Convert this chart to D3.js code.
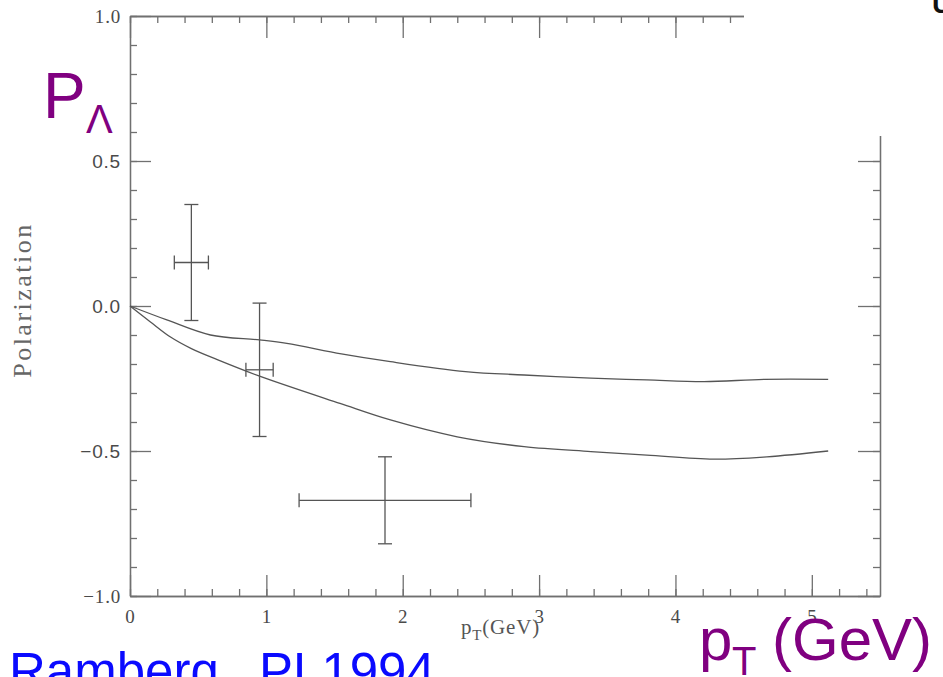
<!DOCTYPE html>
<html>
<head>
<meta charset="utf-8">
<script src="https://cdn.jsdelivr.net/npm/d3@7"></script>
<style>
  html, body { margin: 0; padding: 0; background: #fff; }
  svg { display: block; }
</style>
</head>
<body>
<svg id="chart" width="943" height="677"></svg>
<script>
// model curves
var upperPt = [0, 0.27, 0.59, 0.95, 1.15, 1.55, 1.91, 2.46, 2.89, 3.38, 3.79, 4.21, 4.65, 5.12];
var upperP  = [0, -0.048, -0.1, -0.117, -0.129, -0.165, -0.192, -0.226, -0.238, -0.249, -0.255, -0.261, -0.253, -0.253];
var lowerPt = [0, 0.15, 0.3, 0.45, 0.64, 0.95, 1.54, 1.91, 2.40, 2.89, 3.38, 3.79, 4.28, 4.67, 5.12];
var lowerP  = [0, -0.055, -0.108, -0.147, -0.185, -0.242, -0.336, -0.393, -0.451, -0.485, -0.502, -0.514, -0.528, -0.52, -0.5];

// data points with errors
var pointPt    = [0.45, 0.95, 1.87];
var pointPtErr = [0.125, 0.1, 0.63];
var pointP     = [0.15, -0.22, -0.67];
var pointPErr  = [0.2, 0.23, 0.15];

var xTicks = [0, 1, 2, 3, 4, 5];
var yTicks = [-1, -0.5, 0, 0.5, 1];
var yTickLabels = ["\u22121.0", "\u22120.5", "0.0", "0.5", "1.0"];

var svg = d3.select("#chart");
var x = d3.scaleLinear().domain([0, 5.5]).range([130, 880]);
var y = d3.scaleLinear().domain([-1, 1]).range([596, 16]);

var xMinor = d3.range(0, 28).map(function(i){ return i * 0.2; });
var yMinor = d3.range(0, 21).map(function(i){ return -1 + i * 0.1; });

function addAxis( axis, transform, labels ){
	var g = svg.append("g").attr("transform", transform).call(axis);
	g.selectAll("path, line").attr("stroke", "#707070").attr("stroke-width", 1.3);
	if ( !labels ) g.selectAll("text").remove();
	else g.selectAll("text").attr("fill", "#4a4a4a").style("font-size", "19px").style("letter-spacing", "0.8px");
	return g;
}

// minor ticks first, majors on top
addAxis( d3.axisBottom(x).tickValues(xMinor).tickSize(-7).tickSizeOuter(0), "translate(0,596)", false );
addAxis( d3.axisTop(x).tickValues(xMinor).tickSize(-7).tickSizeOuter(0), "translate(0,16)", false );
addAxis( d3.axisLeft(y).tickValues(yMinor).tickSize(-7).tickSizeOuter(0), "translate(130,0)", false );
addAxis( d3.axisRight(y).tickValues(yMinor).tickSize(-7).tickSizeOuter(0), "translate(880,0)", false );

var bottom = addAxis( d3.axisBottom(x).tickValues(xTicks).tickSize(-21).tickSizeOuter(0).tickPadding(14)
	.tickFormat(d3.format("d")), "translate(0,596)", true );
bottom.selectAll("text").style("font-family", "'Liberation Serif', serif");

addAxis( d3.axisTop(x).tickValues(xTicks).tickSize(-22).tickSizeOuter(0), "translate(0,16)", false );

var left = addAxis( d3.axisLeft(y).tickValues(yTicks).tickSize(-21).tickSizeOuter(0).tickPadding(9)
	.tickFormat(function(d, i){ return yTickLabels[i]; }), "translate(130,0)", true );
left.selectAll("text").style("font-family", function(d){
	return Math.abs(d) === 1 ? "'Liberation Serif', serif" : "'Liberation Sans', sans-serif";
});

addAxis( d3.axisRight(y).tickValues(yTicks).tickSize(-22).tickSizeOuter(0), "translate(880,0)", false );

// axis titles of the original figure
svg.append("text")
	.attr("transform", "translate(31,300) rotate(-90)")
	.attr("text-anchor", "middle")
	.style("font-family", "'Liberation Serif', serif")
	.style("font-size", "26px")
	.style("letter-spacing", "2.5px")
	.style("fill", "#666")
	.text("Polarization");

var xt = svg.append("text")
	.attr("x", 461).attr("y", 634)
	.style("font-family", "'Liberation Serif', serif")
	.style("font-size", "21px")
	.style("letter-spacing", "0.8px")
	.style("fill", "#555");
xt.append("tspan").text("p");
xt.append("tspan").attr("dy", 6).style("font-size", "15px").text("T");
xt.append("tspan").attr("dy", -6).text("(GeV)");

// curves
var line = d3.line()
	.x(function(d){ return x(d[0]); })
	.y(function(d){ return y(d[1]); })
	.curve(d3.curveCatmullRom.alpha(0.5));

[ d3.zip(upperPt, upperP), d3.zip(lowerPt, lowerP) ].forEach(function(pts){
	svg.append("path")
		.datum(pts)
		.attr("d", line)
		.attr("fill", "none")
		.attr("stroke", "#555")
		.attr("stroke-width", 1.3);
});

// error bars
var cap = 7;
var bars = svg.append("g").attr("stroke", "#555").attr("stroke-width", 1.3);
pointPt.forEach(function(pt, i){
	var cx = x(pt), cy = y(pointP[i]);
	var x0 = x(pt - pointPtErr[i]), x1 = x(pt + pointPtErr[i]);
	var y0 = y(pointP[i] + pointPErr[i]), y1 = y(pointP[i] - pointPErr[i]);
	bars.append("line").attr("x1", cx).attr("x2", cx).attr("y1", y0).attr("y2", y1);
	bars.append("line").attr("x1", x0).attr("x2", x1).attr("y1", cy).attr("y2", cy);
	bars.append("line").attr("x1", cx - cap).attr("x2", cx + cap).attr("y1", y0).attr("y2", y0);
	bars.append("line").attr("x1", cx - cap).attr("x2", cx + cap).attr("y1", y1).attr("y2", y1);
	bars.append("line").attr("x1", x0).attr("x2", x0).attr("y1", cy - cap).attr("y2", cy + cap);
	bars.append("line").attr("x1", x1).attr("x2", x1).attr("y1", cy - cap).attr("y2", cy + cap);
});

// slide overlay: white patch over top right corner of the figure
svg.append("rect").attr("x", 744).attr("y", 0).attr("width", 199).attr("height", 136).attr("fill", "#fff");

svg.append("text")
	.attr("x", 932).attr("y", 13)
	.style("font-family", "'Liberation Sans', sans-serif")
	.style("font-weight", "bold")
	.style("font-size", "28px")
	.style("fill", "#111")
	.text("U");

// slide annotations
var pl = svg.append("text")
	.attr("x", 43).attr("y", 118)
	.style("font-family", "'Liberation Sans', Arial, sans-serif")
	.style("fill", "#800080");
pl.append("tspan").style("font-size", "64px").text("P");
pl.append("tspan").attr("x", 86).attr("y", 133).style("font-size", "40px").text("\u039b");

var pt = svg.append("text")
	.attr("x", 699).attr("y", 660)
	.style("font-family", "'Liberation Sans', Arial, sans-serif")
	.style("fill", "#800080")
	.style("font-size", "60px");
pt.append("tspan").text("p");
pt.append("tspan").attr("x", 732).attr("y", 675).style("font-size", "40px").text("T");
pt.append("tspan").attr("x", 772).attr("y", 660).text("(GeV)");

var ref = svg.append("text")
	.attr("y", 689)
	.style("font-family", "'Liberation Sans', Arial, sans-serif")
	.style("fill", "#0a0aff")
	.style("font-size", "51px");
ref.append("tspan").attr("x", 9).text("Ramberg,");
ref.append("tspan").attr("x", 259).text("PL1994");
</script>
</body>
</html>
